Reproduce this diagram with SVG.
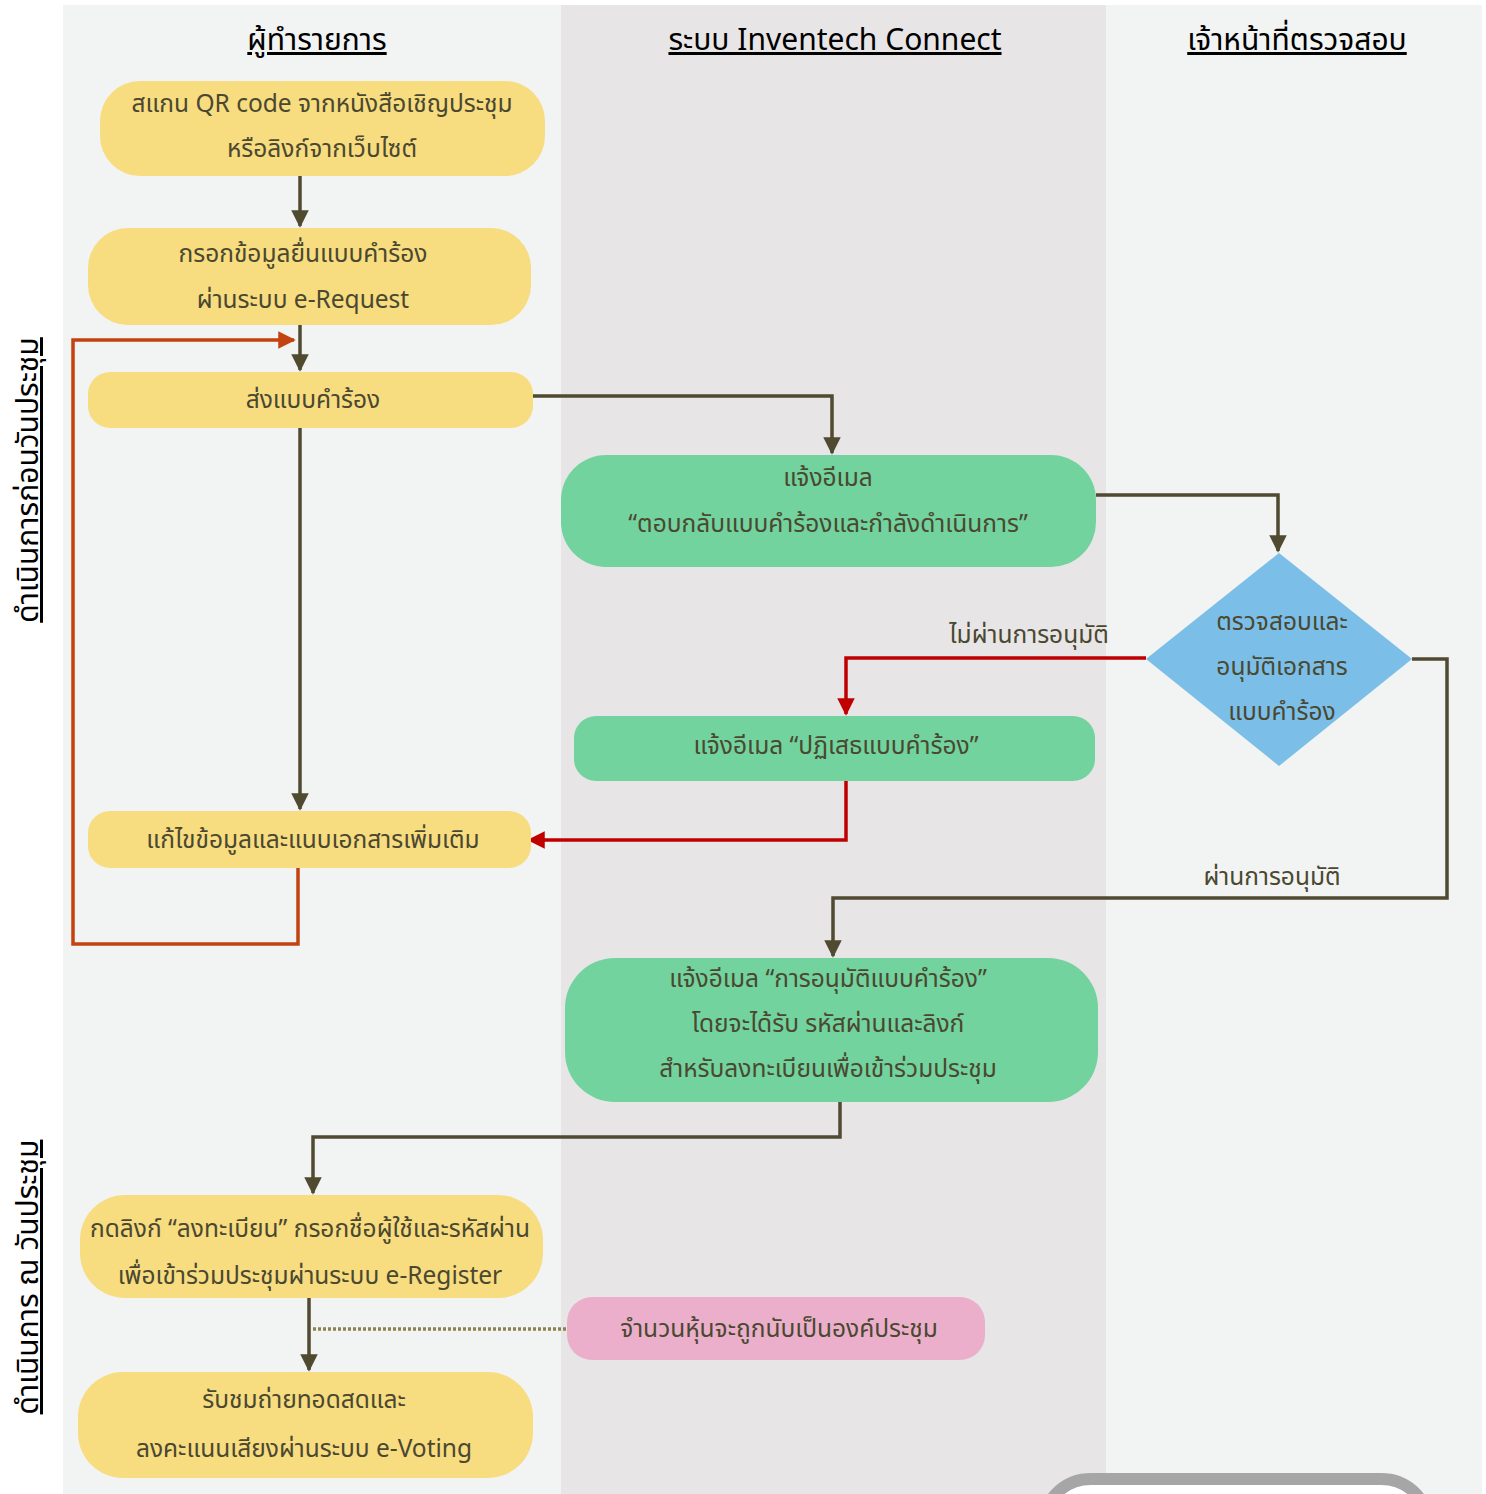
<svg xmlns="http://www.w3.org/2000/svg" width="1486" height="1494" viewBox="0 0 1486 1494">
<defs>
<style>
.t{font-family:"Noto Sans Thai","Noto Sans","DejaVu Sans",sans-serif;font-size:24.5px;fill:#4A4830;text-anchor:middle}
.h{font-family:"Noto Sans Thai","Noto Sans","DejaVu Sans",sans-serif;font-size:30px;fill:#000;text-anchor:middle;text-decoration:underline}
.y{fill:#F7DC80}
.g{fill:#72D39E}
.c{fill:none;stroke:#4F4A30;stroke-width:3.5}
.r{fill:none;stroke:#C00000;stroke-width:3.5}
.o{fill:none;stroke:#C3420F;stroke-width:3.5}
</style>
<marker id="a" markerWidth="5" markerHeight="5" refX="4.5" refY="2.5" orient="auto" markerUnits="strokeWidth"><path d="M0,0 L5,2.5 L0,5 z" fill="#4F4A30"/></marker>
<marker id="ar" markerWidth="5" markerHeight="5" refX="4.5" refY="2.5" orient="auto" markerUnits="strokeWidth"><path d="M0,0 L5,2.5 L0,5 z" fill="#C00000"/></marker>
<marker id="ao" markerWidth="5" markerHeight="5" refX="4.5" refY="2.5" orient="auto" markerUnits="strokeWidth"><path d="M0,0 L5,2.5 L0,5 z" fill="#C3420F"/></marker>
</defs>
<rect width="1486" height="1494" fill="#fff"/>
<g id="lanes">
<rect x="63" y="5" width="498" height="1489" fill="#F2F3F3"/>
<rect x="561" y="5" width="545" height="1489" fill="#E7E5E6"/>
<rect x="1106" y="5" width="376" height="1489" fill="#F2F3F3"/>
<text class="h" x="317" y="50">ผู้ทำรายการ</text>
<text class="h" x="835" y="50">ระบบ Inventech Connect</text>
<text class="h" x="1297" y="50">เจ้าหน้าที่ตรวจสอบ</text>
<text class="h" transform="translate(38,480) rotate(-90)" x="0" y="0">ดำเนินการก่อนวันประชุม</text>
<text class="h" transform="translate(38,1277) rotate(-90)" x="0" y="0">ดำเนินการ ณ วันประชุม</text>
</g>
<g id="connectors">
<path class="c" d="M300,176 V226" marker-end="url(#a)"/>
<path class="c" d="M300,325 V370" marker-end="url(#a)"/>
<path class="o" d="M298,868 V944 H73 V340 H294" marker-end="url(#ao)"/>
<path class="c" d="M525,396 H832 V453" marker-end="url(#a)"/>
<path class="c" d="M300,428 V809" marker-end="url(#a)"/>
<path class="c" d="M1096,495 H1278 V551" marker-end="url(#a)"/>
<path class="r" d="M1146,658 H846 V714" marker-end="url(#ar)"/>
<path class="r" d="M846,781 V840 H529" marker-end="url(#ar)"/>
<path class="c" d="M1412,659 H1447 V898 H833 V956" marker-end="url(#a)"/>
<path class="c" d="M840,1102 V1137 H313 V1193" marker-end="url(#a)"/>
<path class="c" d="M309,1298 V1370" marker-end="url(#a)"/>
<path d="M313,1329 H567" fill="none" stroke="#8B8450" stroke-width="3.5" stroke-dasharray="3,2"/>
<text class="t" x="1029" y="643">ไม่ผ่านการอนุมัติ</text>
<text class="t" x="1272" y="885">ผ่านการอนุมัติ</text>
</g>
<g id="n1"><rect class="y" x="100" y="81" width="445" height="95" rx="40"/><text class="t" x="322" y="112">สแกน QR code จากหนังสือเชิญประชุม</text><text class="t" x="322" y="157">หรือลิงก์จากเว็บไซต์</text></g>
<g id="n2"><rect class="y" x="88" y="228" width="443" height="97" rx="40"/><text class="t" x="303" y="262">กรอกข้อมูลยื่นแบบคำร้อง</text><text class="t" x="303" y="308">ผ่านระบบ e-Request</text></g>
<g id="n3"><rect class="y" x="88" y="372" width="445" height="56" rx="22"/><text class="t" x="313" y="408">ส่งแบบคำร้อง</text></g>
<g id="n4"><rect class="g" x="561" y="455" width="535" height="112" rx="45"/><text class="t" x="828" y="486">แจ้งอีเมล</text><text class="t" x="828" y="532">“ตอบกลับแบบคำร้องและกำลังดำเนินการ”</text></g>
<g id="n5"><path d="M1279,553 L1412,659 L1279,766 L1146,659 z" fill="#7BBFE8"/><text class="t" x="1282" y="630">ตรวจสอบและ</text><text class="t" x="1282" y="675">อนุมัติเอกสาร</text><text class="t" x="1282" y="720">แบบคำร้อง</text></g>
<g id="n6"><rect class="g" x="574" y="716" width="521" height="65" rx="22"/><text class="t" x="836" y="754">แจ้งอีเมล “ปฏิเสธแบบคำร้อง”</text></g>
<g id="n7"><rect class="y" x="88" y="811" width="443" height="57" rx="22"/><text class="t" x="313" y="848">แก้ไขข้อมูลและแนบเอกสารเพิ่มเติม</text></g>
<g id="n8"><rect class="g" x="565" y="958" width="533" height="144" rx="50"/><text class="t" x="828" y="987">แจ้งอีเมล “การอนุมัติแบบคำร้อง”</text><text class="t" x="828" y="1032">โดยจะได้รับ รหัสผ่านและลิงก์</text><text class="t" x="828" y="1077">สำหรับลงทะเบียนเพื่อเข้าร่วมประชุม</text></g>
<g id="n9"><rect class="y" x="80" y="1195" width="463" height="103" rx="45"/><text class="t" x="310" y="1237">กดลิงก์ “ลงทะเบียน” กรอกชื่อผู้ใช้และรหัสผ่าน</text><text class="t" x="310" y="1284">เพื่อเข้าร่วมประชุมผ่านระบบ e-Register</text></g>
<g id="n10"><rect x="567" y="1297" width="418" height="63" rx="25" fill="#EBAFCB"/><text class="t" x="779" y="1337">จำนวนหุ้นจะถูกนับเป็นองค์ประชุม</text></g>
<g id="n11"><rect class="y" x="78" y="1372" width="455" height="106" rx="45"/><text class="t" x="304" y="1408">รับชมถ่ายทอดสดและ</text><text class="t" x="304" y="1457">ลงคะแนนเสียงผ่านระบบ e-Voting</text></g>
<g id="n12"><rect x="1046" y="1479" width="380" height="80" rx="45" fill="#fff" stroke="#A6A6A6" stroke-width="12"/></g>
</svg>
